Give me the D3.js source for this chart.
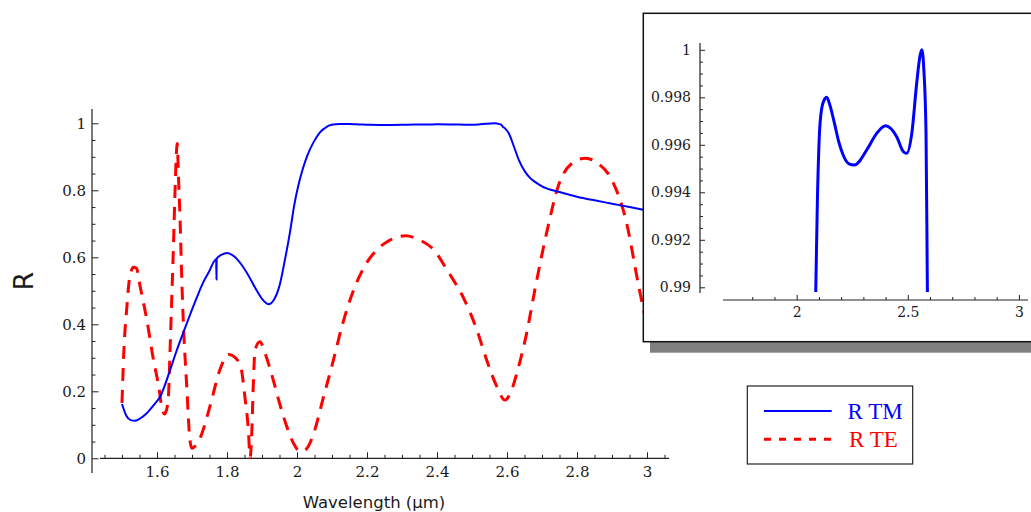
<!DOCTYPE html>
<html><head><meta charset="utf-8">
<script src="https://cdn.jsdelivr.net/npm/d3@7"></script>
<style>html,body{margin:0;padding:0;background:#fff;}svg{display:block;}</style>
</head><body>
<script>
// ---- data ----
const tmWavelength = [1.500,1.512,1.525,1.537,1.550,1.570,1.590,1.610,1.637,1.655,1.675,1.695,1.713,1.732,1.750,1.769,1.7700,1.7705,1.785,1.800,1.820,1.840,1.860,1.880,1.900,1.918,1.935,1.950,1.965,1.980,1.992,2.004,2.016,2.030,2.047,2.065,2.086,2.093,2.102,2.112,2.122,2.135,2.150,2.170,2.190,2.210,2.235,2.260,2.315,2.360,2.400,2.450,2.480,2.495,2.518,2.540,2.555,2.563,2.572,2.582,2.588,2.595,2.606,2.620,2.634,2.650,2.663,2.680,2.700,2.750,2.800,2.850,2.900,2.950,3.000];
const tmR = [0.162,0.128,0.114,0.112,0.118,0.134,0.158,0.186,0.262,0.318,0.375,0.430,0.478,0.525,0.560,0.594,0.534,0.596,0.608,0.613,0.603,0.580,0.548,0.510,0.476,0.460,0.475,0.515,0.590,0.675,0.755,0.815,0.862,0.905,0.943,0.972,0.9900,0.9936,0.9964,0.9975,0.99785,0.9980,0.99765,0.9969,0.9961,0.99555,0.9952,0.99515,0.99578,0.99648,0.9968,0.99634,0.99571,0.99564,0.99648,0.99859,0.99975,1.0000,0.9992,0.9965,0.9900,0.984,0.968,0.930,0.890,0.858,0.840,0.825,0.812,0.795,0.781,0.770,0.760,0.750,0.740];
const teWavelength = [1.500,1.505,1.514,1.522,1.533,1.541,1.552,1.571,1.590,1.605,1.614,1.622,1.632,1.637,1.642,1.647,1.651,1.658,1.661,1.666,1.670,1.675,1.685,1.694,1.700,1.710,1.723,1.751,1.780,1.805,1.822,1.840,1.851,1.861,1.866,1.870,1.875,1.880,1.894,1.910,1.932,1.950,1.971,1.990,2.009,2.025,2.047,2.075,2.104,2.130,2.161,2.200,2.228,2.260,2.309,2.350,2.391,2.430,2.476,2.514,2.542,2.571,2.594,2.610,2.628,2.656,2.680,2.713,2.749,2.785,2.824,2.860,2.900,2.940,2.977,3.000];
const teR = [0.165,0.313,0.453,0.540,0.570,0.568,0.512,0.413,0.293,0.214,0.150,0.132,0.174,0.313,0.473,0.632,0.780,0.940,0.850,0.711,0.562,0.413,0.214,0.055,0.030,0.038,0.060,0.154,0.265,0.310,0.302,0.270,0.184,0.085,0.002,0.055,0.214,0.323,0.348,0.310,0.234,0.165,0.094,0.045,0.020,0.026,0.072,0.180,0.293,0.400,0.500,0.585,0.622,0.648,0.664,0.652,0.622,0.560,0.478,0.383,0.293,0.214,0.174,0.195,0.254,0.373,0.505,0.672,0.820,0.880,0.896,0.880,0.830,0.710,0.510,0.395];

const xTickValues = [1.6,1.8,2.0,2.2,2.4,2.6,2.8,3.0];
const xTickLabels = ["1.6","1.8","2","2.2","2.4","2.6","2.8","3"];
const yTickValues = [0,0.2,0.4,0.6,0.8,1.0];
const yTickLabels = ["0","0.2","0.4","0.6","0.8","1"];
const insetXTickValues = [2.0,2.5,3.0];
const insetXTickLabels = ["2","2.5","3"];
const insetYTickValues = [0.990,0.992,0.994,0.996,0.998,1.000];
const insetYTickLabels = ["0.99","0.992","0.994","0.996","0.998","1"];
const seriesNames = ["R TM","R TE"];
const xTitle = "Wavelength (\u03bcm)";
const yTitle = "R";

// ---- drawing ----
const W = 1031, H = 512;
const svg = d3.select("body").append("svg").attr("width", W).attr("height", H);
svg.append("rect").attr("width", W).attr("height", H).attr("fill", "#fff");

const tickFont = "'DejaVu Serif', serif";
const axisColor = "#222";

const x = d3.scaleLinear().domain([2, 3]).range([297, 647]);
const y = d3.scaleLinear().domain([0, 1]).range([458.3, 123.3]);

function range(a, b, s) { const out = []; for (let v = a; v <= b + 1e-9; v += s) out.push(+v.toFixed(6)); return out; }
function notIn(list) { return v => !list.some(m => Math.abs(m - v) < 1e-6); }

const main = svg.append("g");
// axis lines
main.append("line").attr("x1", x(1.437)).attr("x2", x(3.063)).attr("y1", y(0)).attr("y2", y(0))
  .attr("stroke", axisColor).attr("stroke-width", 1.2);
main.append("line").attr("x1", 92).attr("x2", 92).attr("y1", y(1.043)).attr("y2", y(-0.044))
  .attr("stroke", axisColor).attr("stroke-width", 1.2);

function styleAxis(g, size) {
  g.select(".domain").remove();
  g.selectAll(".tick line").attr("stroke", axisColor).attr("stroke-width", 1);
  g.selectAll(".tick text").attr("font-family", tickFont).attr("font-size", size).attr("fill", "#1a1a1a");
}
// x axis
const gx = main.append("g").attr("transform", `translate(0,${y(0)})`)
  .call(d3.axisBottom(x).tickValues(xTickValues).tickFormat((d, i) => xTickLabels[i]).tickSizeInner(-6).tickSizeOuter(0).tickPadding(8));
styleAxis(gx, 15);
const gxm = main.append("g").attr("transform", `translate(0,${y(0)})`)
  .call(d3.axisBottom(x).tickValues(range(1.45, 3.05, 0.05).filter(notIn(xTickValues))).tickFormat("").tickSizeInner(-3.5).tickSizeOuter(0));
styleAxis(gxm, 15);
// y axis
const gy = main.append("g").attr("transform", `translate(92,0)`)
  .call(d3.axisLeft(y).tickValues(yTickValues).tickFormat((d, i) => yTickLabels[i]).tickSizeInner(-6.5).tickSizeOuter(0).tickPadding(6));
styleAxis(gy, 15);
const gym = main.append("g").attr("transform", `translate(92,0)`)
  .call(d3.axisLeft(y).tickValues(range(0, 1, 0.05).filter(notIn(yTickValues))).tickFormat("").tickSizeInner(-3.5).tickSizeOuter(0));
styleAxis(gym, 15);

// titles
main.append("text").attr("x", 374).attr("y", 507.5).attr("text-anchor", "middle")
  .attr("font-family", "'DejaVu Sans', sans-serif").attr("font-size", 16.5).attr("fill", "#1a1a1a").text(xTitle);
main.append("text").attr("transform", "translate(33,281) rotate(-90)").attr("text-anchor", "middle")
  .attr("font-family", "'DejaVu Sans', sans-serif").attr("font-size", 27).attr("fill", "#1a1a1a").text(yTitle);

// series
const line = d3.line().x(d => x(d[0])).y(d => y(d[1])).curve(d3.curveMonotoneX);
const tmData = d3.zip(tmWavelength, tmR);
const teData = d3.zip(teWavelength, teR);
main.append("path").attr("d", line(teData)).attr("fill", "none").attr("stroke", "#ff0000")
  .attr("stroke-width", 3).attr("stroke-dasharray", "13,9");
main.append("path").attr("d", line(tmData)).attr("fill", "none").attr("stroke", "#0000ff")
  .attr("stroke-width", 2);

// legend
const leg = svg.append("g");
leg.append("rect").attr("x", 747.3).attr("y", 386).attr("width", 165.4).attr("height", 78)
  .attr("fill", "#fff").attr("stroke", "#222").attr("stroke-width", 1.2);
leg.append("line").attr("x1", 764).attr("x2", 831.7).attr("y1", 411).attr("y2", 411)
  .attr("stroke", "#0000ff").attr("stroke-width", 2);
leg.append("line").attr("x1", 764).attr("x2", 835).attr("y1", 439.3).attr("y2", 439.3)
  .attr("stroke", "#ff0000").attr("stroke-width", 3).attr("stroke-dasharray", "7,8");
leg.append("text").attr("x", 847.5).attr("y", 419.3).attr("font-family", "'Liberation Serif', serif")
  .attr("font-size", 23).attr("fill", "#0000ff").text(seriesNames[0]);
leg.append("text").attr("x", 849).attr("y", 446.5).attr("font-family", "'Liberation Serif', serif")
  .attr("font-size", 23).attr("fill", "#ff0000").text(seriesNames[1]);

// inset
const ins = svg.append("g");
ins.append("rect").attr("x", 650).attr("y", 24).attr("width", 400).attr("height", 328.7).attr("fill", "#808080");
ins.append("rect").attr("x", 643.3).attr("y", 13.3).attr("width", 400).attr("height", 328.4)
  .attr("fill", "#fff").attr("stroke", "#111").attr("stroke-width", 1.5);

const xi = d3.scaleLinear().domain([2, 3]).range([796.7, 1018.9]);
const yi = d3.scaleLinear().domain([0.990, 1.000]).range([287.3, 49.8]);

ins.append("line").attr("x1", 723).attr("x2", 1028).attr("y1", 300).attr("y2", 300)
  .attr("stroke", axisColor).attr("stroke-width", 1.2);
ins.append("line").attr("x1", 700).attr("x2", 700).attr("y1", 43).attr("y2", 293)
  .attr("stroke", axisColor).attr("stroke-width", 1.2);

const gix = ins.append("g").attr("transform", "translate(0,300)")
  .call(d3.axisBottom(xi).tickValues(insetXTickValues).tickFormat((d, i) => insetXTickLabels[i]).tickSizeInner(-5).tickSizeOuter(0).tickPadding(7));
styleAxis(gix, 14);
const gixm = ins.append("g").attr("transform", "translate(0,300)")
  .call(d3.axisBottom(xi).tickValues(range(1.8, 3.0, 0.1).filter(notIn(insetXTickValues))).tickFormat("").tickSizeInner(-3).tickSizeOuter(0));
styleAxis(gixm, 14);
const giy = ins.append("g").attr("transform", "translate(700,0)")
  .call(d3.axisLeft(yi).tickValues(insetYTickValues).tickFormat((d, i) => insetYTickLabels[i]).tickSizeInner(-5).tickSizeOuter(0).tickPadding(9));
styleAxis(giy, 14);
const giym = ins.append("g").attr("transform", "translate(700,0)")
  .call(d3.axisLeft(yi).tickValues(range(0.990, 1.000, 0.0005).filter(notIn(insetYTickValues))).tickFormat("").tickSizeInner(-3).tickSizeOuter(0));
styleAxis(giym, 14);

svg.append("clipPath").attr("id", "insetClip").append("rect")
  .attr("x", 700).attr("y", 43).attr("width", 330).attr("height", yi(0.9898) - 43);
const lineI = d3.line().x(d => xi(d[0])).y(d => yi(d[1])).curve(d3.curveMonotoneX);
ins.append("path").attr("d", lineI(tmData.filter(d => d[0] > 1.9 && d[0] < 2.7)))
  .attr("clip-path", "url(#insetClip)")
  .attr("fill", "none").attr("stroke", "#0000ff").attr("stroke-width", 3);
</script>
</body></html>
